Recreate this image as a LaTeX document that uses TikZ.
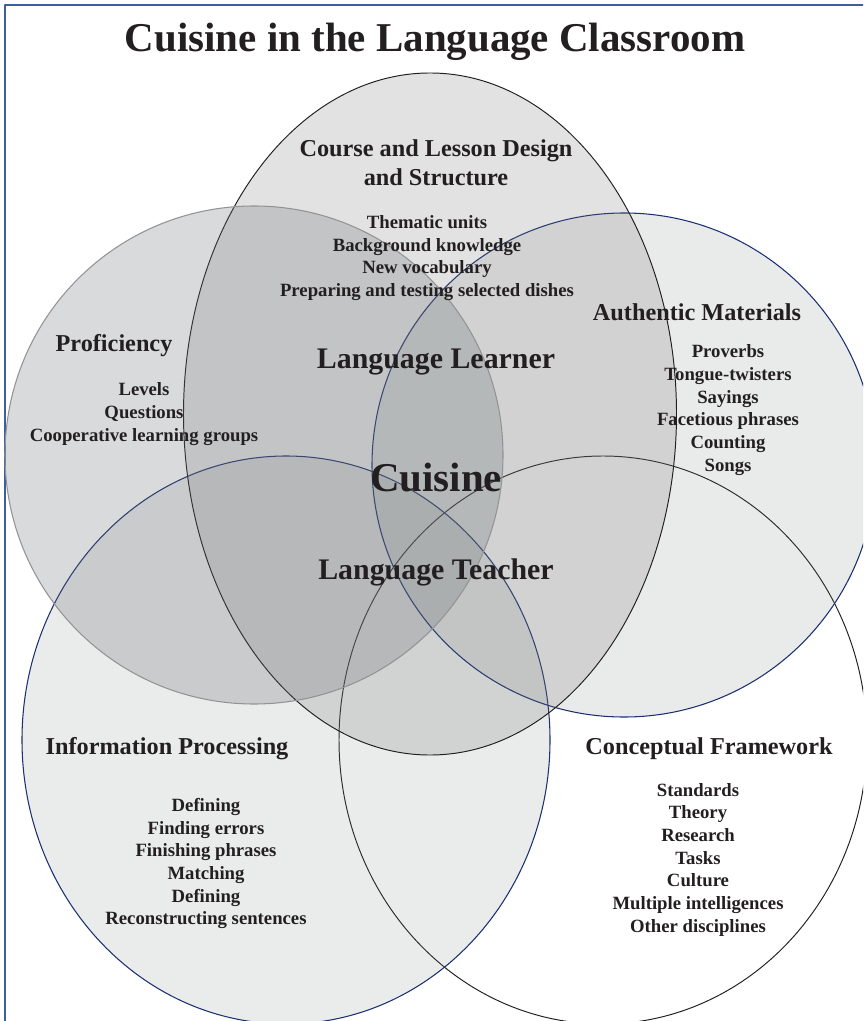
\documentclass[tikz,border=0pt]{standalone}
\usepackage{fontspec}
\setmainfont{Liberation Serif}
\usepackage{xcolor}

\definecolor{frameblue}{RGB}{62,92,158}
\definecolor{navy}{RGB}{28,48,112}
\definecolor{ink}{RGB}{35,31,32}
\definecolor{profgray}{RGB}{103,107,115}
\definecolor{coursegray}{RGB}{110,110,110}
\definecolor{authgray}{RGB}{108,122,115}
\definecolor{infogray}{RGB}{112,125,122}

\begin{document}
\begin{tikzpicture}[line cap=round, line join=round,
    heading/.style={text=ink, align=center, font=\bfseries\fontsize{13.8}{16.5}\selectfont},
    items/.style={text=ink, align=center, font=\bfseries\fontsize{10.65}{12.9}\selectfont},
    middle/.style={text=ink, font=\bfseries\fontsize{17}{20}\selectfont}]
  \useasboundingbox (0,0) rectangle (17.26,-20.42);
  \clip (0,0) rectangle (17.26,-20.42);
  %--- Frame
    \draw[frameblue, line width=0.9pt] (0.1,-21) -- (0.1,-0.1) -- (18,-0.1);
  %--- Conceptual Framework
    \draw[ink, line width=0.55pt] (12.06,-14.80) ellipse [x radius=5.28, y radius=5.68];
  %--- Information Processing
    \draw[navy, line width=0.6pt, fill=infogray, fill opacity=0.15] (5.72,-14.80) ellipse [x radius=5.28, y radius=5.68];
  %--- Authentic Materials
    \draw[navy, line width=0.6pt, fill=authgray, fill opacity=0.15] (12.48,-9.30) circle (5.04);
  %--- Course and Lesson Design
    \draw[ink, line width=0.55pt, fill=coursegray, fill opacity=0.2] (8.60,-8.28) ellipse [x radius=4.93, y radius=6.82];
  %--- Proficiency
    \draw[gray!85, line width=0.6pt, fill=profgray, fill opacity=0.25] (5.08,-9.10) circle (4.98);

  %--- Title
    \node[text=ink, font=\bfseries\fontsize{23.3}{28}\selectfont] (title) at (8.70,-0.84) {Cuisine in the Language Classroom};
  %--- Course
    \node[heading] (course) at (8.72,-3.25) {Course and Lesson Design\\and Structure};
    \node[items] (courseitems) at (8.54,-5.16) {Thematic units\\Background knowledge\\New vocabulary\\Preparing and testing selected dishes};
  %--- Proficiency
    \node[heading] (prof) at (2.28,-6.92) {Proficiency};
    \node[items] (profitems) at (2.88,-8.28) {Levels\\Questions\\Cooperative learning groups};
  %--- Centre
    \node[middle] (learner) at (8.72,-7.24) {Language Learner};
    \node[text=ink, font=\bfseries\fontsize{23.3}{28}\selectfont] (cuisine) at (8.72,-9.56) {Cuisine};
    \node[middle] (teacher) at (8.72,-11.44) {Language Teacher};
  %--- Authentic
    \node[heading] (auth) at (13.94,-6.24) {Authentic Materials};
    \node[items] (authitems) at (14.56,-8.20) {Proverbs\\Tongue-twisters\\Sayings\\Facetious phrases\\Counting\\Songs};
  %--- Information
    \node[heading] (info) at (3.34,-14.98) {Information Processing};
    \node[items] (infoitems) at (4.12,-17.27) {Defining\\Finding errors\\Finishing phrases\\Matching\\Defining\\Reconstructing sentences};
  %--- Conceptual
    \node[heading] (concept) at (14.18,-14.98) {Conceptual Framework};
    \node[items] (conceptitems) at (13.96,-17.19) {Standards\\Theory\\Research\\Tasks\\Culture\\Multiple intelligences\\Other disciplines};
\end{tikzpicture}
\end{document}
